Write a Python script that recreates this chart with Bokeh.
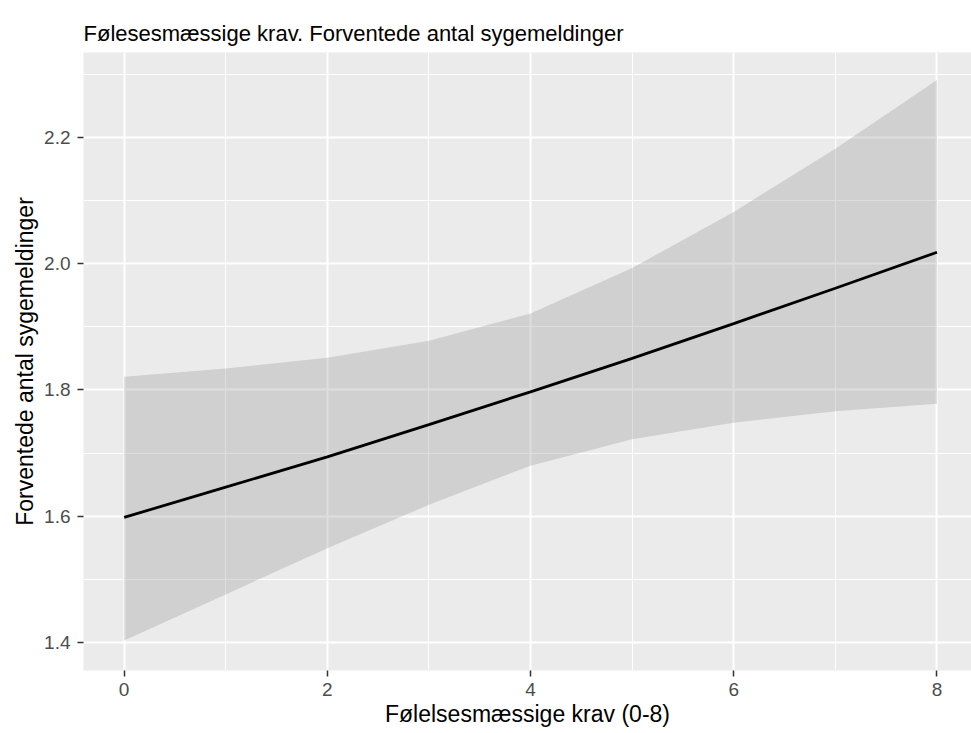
from bokeh.plotting import figure
from bokeh.models import ColumnDataSource, FixedTicker, Range1d, NumeralTickFormatter
from bokeh.embed import file_html
from bokeh.resources import INLINE

# Predicted number of sick leaves by emotional demands score (0-8)
krav = [0, 1, 2, 3, 4, 5, 6, 7, 8]
forventet = [1.598, 1.646, 1.694, 1.745, 1.797, 1.850, 1.905, 1.961, 2.018]
nedre = [1.403, 1.476, 1.549, 1.618, 1.680, 1.722, 1.748, 1.766, 1.778]
oevre = [1.821, 1.834, 1.851, 1.878, 1.921, 1.993, 2.082, 2.182, 2.291]

x_ticks = [0, 2, 4, 6, 8]
x_minor = [1, 3, 5, 7]
y_ticks = [1.4, 1.6, 1.8, 2.0, 2.2]
y_minor = [1.5, 1.7, 1.9, 2.1, 2.3]

FONT = "Liberation Sans"

src = ColumnDataSource(dict(x=krav, y=forventet, lo=nedre, hi=oevre))

p = figure(
    width=971, height=733,
    output_backend="svg", toolbar_location=None,
    x_range=Range1d(-0.4, 8.34), y_range=Range1d(1.3555, 2.3345),
    min_border_left=83, min_border_right=0, min_border_top=52, min_border_bottom=63,
    title="Følesesmæssige krav. Forventede antal sygemeldinger",
)

p.title.text_font = FONT
p.title.text_font_size = "22px"
p.title.text_font_style = "normal"
p.title.text_color = "#000000"
p.title.offset = 0
p.title.standoff = 13

p.background_fill_color = "#EBEBEB"
p.border_fill_color = "white"
p.outline_line_color = None

p.varea(x="x", y1="lo", y2="hi", source=src, fill_color="#999999", fill_alpha=0.32)
p.line(x="x", y="y", source=src, line_color="black", line_width=2.8)

p.xaxis.ticker = FixedTicker(ticks=x_ticks, minor_ticks=x_minor)
p.yaxis.ticker = FixedTicker(ticks=y_ticks, minor_ticks=y_minor)
p.yaxis.formatter = NumeralTickFormatter(format="0.0")

for ax in (p.xaxis[0], p.yaxis[0]):
    ax.axis_line_color = None
    ax.major_tick_line_color = "#333333"
    ax.major_tick_line_width = 1.5
    ax.major_tick_out = 6
    ax.major_tick_in = 0
    ax.minor_tick_line_color = None
    ax.major_label_text_font = FONT
    ax.major_label_text_font_size = "19px"
    ax.major_label_text_color = "#4D4D4D"
    ax.axis_label_text_font = FONT
    ax.axis_label_text_font_size = "23px"
    ax.axis_label_text_font_style = "normal"
    ax.axis_label_text_color = "#000000"

p.xaxis.axis_label = "Følelsesmæssige krav (0-8)"
p.yaxis.axis_label = "Forventede antal sygemeldinger"
p.xaxis.major_label_standoff = 6
p.yaxis.major_label_standoff = 7
p.xaxis.axis_label_standoff = 2
p.yaxis.axis_label_standoff = 3

for g in (p.xgrid[0], p.ygrid[0]):
    g.grid_line_color = "white"
    g.grid_line_width = 2.0
    g.minor_grid_line_color = "white"
    g.minor_grid_line_width = 1.0

open("out.html", "w").write(file_html(p, INLINE))
